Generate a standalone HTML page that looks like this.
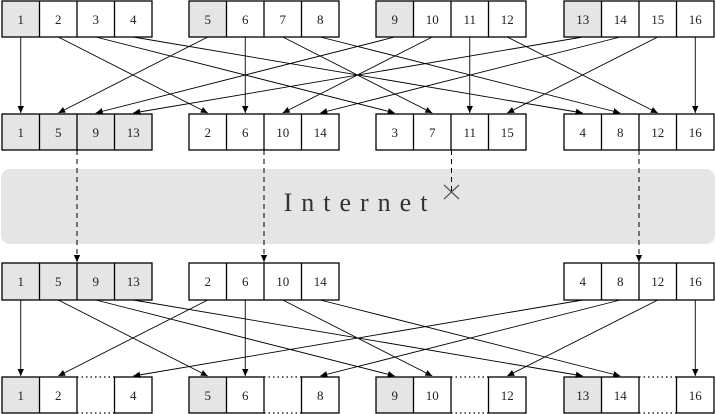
<!DOCTYPE html>
<html><head><meta charset="utf-8"><style>
html,body{margin:0;padding:0;background:#fff;}
svg{display:block;}
text{font-family:"Liberation Serif",serif;font-size:13px;fill:#222;}
</style></head><body>
<svg width="716" height="414" viewBox="0 0 716 414" xmlns="http://www.w3.org/2000/svg">
<defs>
<marker id="a" markerWidth="8" markerHeight="8" refX="7" refY="4" orient="auto" markerUnits="userSpaceOnUse">
<path d="M0,0.8 L7,4 L0,7.2 Z" fill="#000"/>
</marker>
</defs>
<!-- Internet band -->
<rect x="1" y="169" width="714" height="75" rx="9" fill="#e5e5e5"/>
<text x="360" y="211" text-anchor="middle" style="font-size:26px;letter-spacing:9px;fill:#333">Internet</text>
<path d="M444,185 L459,199 M459,185 L444,199" stroke="#555" stroke-width="1.2"/>

<g stroke="#000" stroke-width="1.3">
<!-- shading -->
<g stroke="none" fill="#e5e5e5">
<rect x="2" y="1" width="37.5" height="36"/><rect x="189" y="1" width="37.5" height="36"/><rect x="376" y="1" width="37.5" height="36"/><rect x="564" y="1" width="37.5" height="36"/>
<rect x="2" y="114" width="150" height="36"/>
<rect x="2" y="263" width="150" height="37"/>
<rect x="2" y="377" width="37.5" height="36"/><rect x="189" y="377" width="37.5" height="36"/><rect x="376" y="377" width="37.5" height="36"/><rect x="564" y="377" width="37.5" height="36"/>
</g>
<g fill="none">
<!-- row1 -->
<rect x="2" y="1" width="150" height="36"/><path d="M39.5,1V37M77,1V37M114.5,1V37"/>
<rect x="189" y="1" width="150" height="36"/><path d="M226.5,1V37M264,1V37M301.5,1V37"/>
<rect x="376" y="1" width="150" height="36"/><path d="M413.5,1V37M451,1V37M488.5,1V37"/>
<rect x="564" y="1" width="150" height="36"/><path d="M601.5,1V37M639,1V37M676.5,1V37"/>
<!-- row2 -->
<rect x="2" y="114" width="150" height="36"/><path d="M39.5,114V150M77,114V150M114.5,114V150"/>
<rect x="189" y="114" width="150" height="36"/><path d="M226.5,114V150M264,114V150M301.5,114V150"/>
<rect x="376" y="114" width="150" height="36"/><path d="M413.5,114V150M451,114V150M488.5,114V150"/>
<rect x="564" y="114" width="150" height="36"/><path d="M601.5,114V150M639,114V150M676.5,114V150"/>
<!-- row3 -->
<rect x="2" y="263" width="150" height="37"/><path d="M39.5,263V300M77,263V300M114.5,263V300"/>
<rect x="189" y="263" width="150" height="37"/><path d="M226.5,263V300M264,263V300M301.5,263V300"/>
<rect x="564" y="263" width="150" height="37"/><path d="M601.5,263V300M639,263V300M676.5,263V300"/>
<!-- row4 -->
<rect x="2" y="377" width="75" height="36"/><path d="M39.5,377V413"/><rect x="114.5" y="377" width="37.5" height="36"/>
<rect x="189" y="377" width="75" height="36"/><path d="M226.5,377V413"/><rect x="301.5" y="377" width="37.5" height="36"/>
<rect x="376" y="377" width="75" height="36"/><path d="M413.5,377V413"/><rect x="488.5" y="377" width="37.5" height="36"/>
<rect x="564" y="377" width="75" height="36"/><path d="M601.5,377V413"/><rect x="676.5" y="377" width="37.5" height="36"/>
</g>
</g>
<g stroke="#000" stroke-width="1.2" stroke-dasharray="1.5,3" fill="none">
<path d="M77,377H114.5M77,413H114.5M264,377H301.5M264,413H301.5M451,377H488.5M451,413H488.5M639,377H676.5M639,413H676.5"/>
</g>
<!-- dashed verticals -->
<g stroke="#000" stroke-width="1" stroke-dasharray="5,4" fill="none">
<path d="M77,150V262" marker-end="url(#a)"/>
<path d="M264,150V262" marker-end="url(#a)"/>
<path d="M639,150V262" marker-end="url(#a)"/>
<path d="M451.5,150V192"/>
</g>
<!-- row1 to row2 arrows -->
<g stroke="#000" stroke-width="0.9" fill="none" marker-end="url(#a)">
<line x1="20.75" y1="37" x2="20.75" y2="113"/>
<line x1="58.25" y1="37" x2="207.75" y2="113"/>
<line x1="95.75" y1="37" x2="394.75" y2="113"/>
<line x1="133.25" y1="37" x2="582.75" y2="113"/>
<line x1="207.75" y1="37" x2="58.25" y2="113"/>
<line x1="245.25" y1="37" x2="245.25" y2="113"/>
<line x1="282.75" y1="37" x2="432.25" y2="113"/>
<line x1="320.25" y1="37" x2="620.25" y2="113"/>
<line x1="394.75" y1="37" x2="95.75" y2="113"/>
<line x1="432.25" y1="37" x2="282.75" y2="113"/>
<line x1="469.75" y1="37" x2="469.75" y2="113"/>
<line x1="507.25" y1="37" x2="657.75" y2="113"/>
<line x1="582.75" y1="37" x2="133.25" y2="113"/>
<line x1="620.25" y1="37" x2="320.25" y2="113"/>
<line x1="657.75" y1="37" x2="507.25" y2="113"/>
<line x1="695.25" y1="37" x2="695.25" y2="113"/>
<!-- row3 to row4 -->
<line x1="20.75" y1="300" x2="20.75" y2="376"/>
<line x1="58.25" y1="300" x2="207.75" y2="376"/>
<line x1="95.75" y1="300" x2="394.75" y2="376"/>
<line x1="133.25" y1="300" x2="582.75" y2="376"/>
<line x1="207.75" y1="300" x2="58.25" y2="376"/>
<line x1="245.25" y1="300" x2="245.25" y2="376"/>
<line x1="282.75" y1="300" x2="432.25" y2="376"/>
<line x1="320.25" y1="300" x2="620.25" y2="376"/>
<line x1="582.75" y1="300" x2="133.25" y2="376"/>
<line x1="620.25" y1="300" x2="320.25" y2="376"/>
<line x1="657.75" y1="300" x2="507.25" y2="376"/>
<line x1="695.25" y1="300" x2="695.25" y2="376"/>
</g>
<!-- labels -->
<g text-anchor="middle">
<text x="20.75" y="24">1</text><text x="58.25" y="24">2</text><text x="95.75" y="24">3</text><text x="133.25" y="24">4</text>
<text x="207.75" y="24">5</text><text x="245.25" y="24">6</text><text x="282.75" y="24">7</text><text x="320.25" y="24">8</text>
<text x="394.75" y="24">9</text><text x="432.25" y="24">10</text><text x="469.75" y="24">11</text><text x="507.25" y="24">12</text>
<text x="582.75" y="24">13</text><text x="620.25" y="24">14</text><text x="657.75" y="24">15</text><text x="695.25" y="24">16</text>

<text x="20.75" y="137">1</text><text x="58.25" y="137">5</text><text x="95.75" y="137">9</text><text x="133.25" y="137">13</text>
<text x="207.75" y="137">2</text><text x="245.25" y="137">6</text><text x="282.75" y="137">10</text><text x="320.25" y="137">14</text>
<text x="394.75" y="137">3</text><text x="432.25" y="137">7</text><text x="469.75" y="137">11</text><text x="507.25" y="137">15</text>
<text x="582.75" y="137">4</text><text x="620.25" y="137">8</text><text x="657.75" y="137">12</text><text x="695.25" y="137">16</text>

<text x="20.75" y="286">1</text><text x="58.25" y="286">5</text><text x="95.75" y="286">9</text><text x="133.25" y="286">13</text>
<text x="207.75" y="286">2</text><text x="245.25" y="286">6</text><text x="282.75" y="286">10</text><text x="320.25" y="286">14</text>
<text x="582.75" y="286">4</text><text x="620.25" y="286">8</text><text x="657.75" y="286">12</text><text x="695.25" y="286">16</text>

<text x="20.75" y="400">1</text><text x="58.25" y="400">2</text><text x="133.25" y="400">4</text>
<text x="207.75" y="400">5</text><text x="245.25" y="400">6</text><text x="320.25" y="400">8</text>
<text x="394.75" y="400">9</text><text x="432.25" y="400">10</text><text x="507.25" y="400">12</text>
<text x="582.75" y="400">13</text><text x="620.25" y="400">14</text><text x="695.25" y="400">16</text>
</g>
</svg>
</body></html>
